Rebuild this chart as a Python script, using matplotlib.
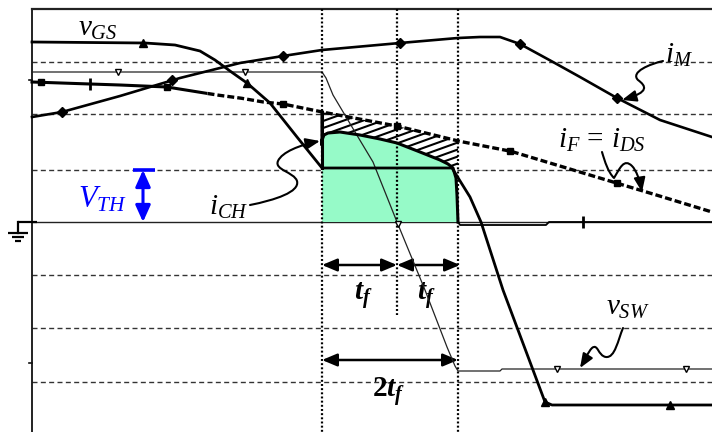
import numpy as np
import matplotlib
matplotlib.use("Agg")
import matplotlib.pyplot as plt
from matplotlib.path import Path
from matplotlib.patches import Polygon, FancyArrowPatch

plt.rcParams.update({
    "mathtext.fontset": "custom",
    "mathtext.rm": "Liberation Serif",
    "mathtext.it": "Liberation Serif:italic",
    "mathtext.bf": "Liberation Serif:bold",
    "mathtext.bfit": "Liberation Serif:italic:bold",
    "font.family": ["Liberation Serif", "DejaVu Serif"],
    "lines.scale_dashes": False,
})

# ---- waveforms: time (arbitrary units) vs level (arbitrary units, 0 = ground) ----
t_vgs = [0, 113, 143, 168, 183, 198, 215, 238, 265, 290, 420, 438, 449, 471, 513, 520, 680]
v_gs = [180, 179, 177, 171, 162, 151, 139, 119, 85, 54, 54, 25, 0, -68, -180, -183, -183]
vgs_marks = [111, 215, 513, 638]

t_im = [0, 30, 88, 148, 208, 251, 290, 368, 426, 448, 468, 488, 521, 548, 585, 628, 680]
i_m = [105, 110, 126, 144, 159, 166, 172, 179, 184, 185, 185, 178, 160, 145, 124, 102, 85]
im_marks = [30, 140, 251, 368, 488, 585]

t_if = [0, 58, 88, 135, 185, 208, 231, 251, 290, 365, 426, 478, 528, 585, 680]
i_f = [140, 138, 137, 135, 127, 124, 120, 118, 110, 96, 81, 71, 56, 39, 10]
if_marks = [9, 135, 251, 365, 478, 585]
if_dash_from = 175

t_vsw = [0, 290, 294, 301, 326, 341, 365, 393, 415, 423, 426, 468, 470, 680]
v_sw = [150, 150, 144, 127, 85, 60, 0, -68, -125, -144, -149, -149, -147, -147]
vsw_marks = [86, 213, 366, 525, 654]

t_ich = [290, 290, 290, 292, 296, 308, 328, 348, 365, 388, 408, 416, 421, 424, 425, 426]
i_ch = [110, 77, 82, 87, 89, 90, 87, 83, 79, 70, 62, 58, 54, 44, 27, 0]
t_ich_tail = [426, 428, 514, 517, 680]
i_ch_tail = [0, -3, -3, 0, 0]
ich_ticks = [(58, 138), (551, 0)]

grid_levels = [160, 108, 52, -53, -106, -160]
t_cursor = [290, 365, 426]
cursor_bottom = [-210, -93, -210]
v_th = 52

fig = plt.figure(figsize=(7.12, 4.32), dpi=100)
ax = fig.add_axes([0, 0, 1, 1])
ax.set_xlim(-32, 680)
ax.set_ylim(-210, 222)
ax.axis("off")

# frame: left axis, top border, ticks, ground level
ax.plot([0, 0], [213, -210], color="#111", lw=1.3, solid_capstyle="butt")
ax.plot([0, 680], [213, 213], color="#222", lw=1.6)
for yt in (142, -141):
    ax.plot([-3, 0], [yt, yt], color="#111", lw=1.2)
ax.plot([0, 680], [0, 0], color="#222", lw=1.0, zorder=2)

# ground symbol
ax.plot([-14, 5], [0, 0], color="k", lw=1.6, solid_capstyle="butt")
ax.plot([-14, -14], [0, -11], color="k", lw=1.6)
for w, yy in ((10, -11), (6, -15), (3, -19)):
    ax.plot([-14 - w, -14 + w], [yy, yy], color="k", lw=1.6, solid_capstyle="butt")

# dashed horizontal grid
for g in grid_levels:
    ax.plot([0, 680], [g, g], color="#333", lw=1.0, dashes=(3.6, 2.4), zorder=1)

# dotted time cursors
for tc, yb in zip(t_cursor, cursor_bottom):
    ax.plot([tc, tc], [213, yb], color="k", lw=1.6, dashes=(1.4, 1.6), zorder=6)

# channel current area (filled) and the hatched band up to i_F
ich_x = np.array(t_ich[2:])
ich_y = np.array(i_ch[2:])
green = Polygon(np.column_stack([np.r_[290, ich_x], np.r_[0, ich_y]]),
                closed=True, facecolor="#96FAC8", edgecolor="none", zorder=2)
ax.add_patch(green)

tt = np.linspace(290, 426, 60)
top = np.interp(tt, t_if, i_f)
hx = np.r_[tt, 426, ich_x[::-1][3:]]
hy = np.r_[top, 54, ich_y[::-1][3:]]
hatch = Polygon(np.column_stack([hx, hy]), closed=True, facecolor="none",
                edgecolor="none", zorder=3)
ax.add_patch(hatch)
xs = np.array([280, 440])
for c in np.arange(-120, 140, 7.0):
    ln, = ax.plot(xs, c + 0.36 * (xs - 280), color="k", lw=1.5, zorder=3)
    ln.set_clip_path(hatch)

# traces
ax.plot(t_vsw, v_sw, color="#222", lw=0.9, zorder=4)
ax.plot(t_vgs, v_gs, color="k", lw=2.0, zorder=5)
ax.plot(t_im, i_m, color="k", lw=1.9, zorder=5)

tf_dense = np.linspace(0, 680, 400)
if_dense = np.interp(tf_dense, t_if, i_f)
solid = tf_dense <= if_dash_from
ax.plot(tf_dense[solid], if_dense[solid], color="k", lw=2.2, zorder=5)
ax.plot(tf_dense[~solid], if_dense[~solid], color="k", lw=2.4, dashes=(5, 2.2), zorder=5)

ax.plot(t_ich, i_ch, color="k", lw=2.2, zorder=5, solid_joinstyle="round")
ax.plot(t_ich_tail, i_ch_tail, color="k", lw=1.3, zorder=5)
ax.plot([290, 290], [110, 54], color="k", lw=2.2, zorder=5)

# trace markers
ax.plot(vgs_marks, np.interp(vgs_marks, t_vgs, v_gs), "^", color="k", ms=6, zorder=7)
ax.plot(im_marks, np.interp(im_marks, t_im, i_m), "D", color="k", ms=5, zorder=7)
ax.plot(if_marks, np.interp(if_marks, t_if, i_f), "s", color="k", ms=5, zorder=7)
ax.plot(vsw_marks, np.interp(vsw_marks, t_vsw, v_sw), "v", mfc="white", mec="k",
        mew=1.0, ms=5, zorder=7)
for tx, ty in ich_ticks:
    ax.plot([tx], [ty], "|", color="k", ms=8, mew=2, zorder=7)

# labels
fs = 21
ax.text(46, 186, r"$v_{GS}$", fontsize=fs, ha="left", va="baseline")
ax.text(633, 159, r"$i_M$", fontsize=fs, ha="left", va="baseline")
ax.text(526, 74, r"$i_F\,=\,i_{DS}$", fontsize=fs, ha="left", va="baseline")
ax.text(177, 7, r"$i_{CH}$", fontsize=fs, ha="left", va="baseline")
ax.text(574, -93, r"$v_{SW}$", fontsize=fs, ha="left", va="baseline")
ax.text(46, 14, r"$V_{TH}$", fontsize=22, ha="left", va="baseline", color="#0000FF")
ax.text(322, -78, r"$\mathbfit{t}_{\mathbfit{f}}$", fontsize=fs, ha="left", va="baseline")
ax.text(385, -78, r"$\mathbfit{t}_{\mathbfit{f}}$", fontsize=fs, ha="left", va="baseline")
ax.text(340, -175, r"$\mathbf{2}\mathbfit{t}_{\mathbfit{f}}$", fontsize=fs, ha="left", va="baseline")

# threshold arrow
ax.plot([101, 123], [v_th, v_th], color="#0000FF", lw=2.6, solid_capstyle="butt")
ax.annotate("", xy=(111, v_th), xytext=(111, 0),
            arrowprops=dict(arrowstyle="<|-|>,head_length=1.0,head_width=0.45",
                            color="#0000FF", lw=2.2, shrinkA=0, shrinkB=0,
                            mutation_scale=10))

# fall-time dimension arrows
dim = dict(arrowstyle="<|-|>,head_length=0.95,head_width=0.4", color="k", lw=1.8,
           shrinkA=0, shrinkB=0, mutation_scale=9.5)
ax.annotate("", xy=(365, -43), xytext=(290, -43), arrowprops=dim)
ax.annotate("", xy=(428, -43), xytext=(365, -43), arrowprops=dim)
ax.annotate("", xy=(426, -138), xytext=(290, -138), arrowprops=dim)


def squiggle(pts):
    codes = [Path.MOVETO] + [Path.CURVE4] * (len(pts) - 1)
    p = FancyArrowPatch(path=Path(pts, codes),
                        arrowstyle="-|>,head_length=1.0,head_width=0.4",
                        mutation_scale=8.5, color="k", lw=1.5, zorder=8)
    ax.add_patch(p)


squiggle([(218, 17), (243, 22), (268, 30), (265, 41), (262, 50), (242, 52), (246, 61),
          (250, 70), (268, 77), (288, 81)])
squiggle([(631, 161), (618, 158), (598, 150), (606, 142), (614, 136), (618, 130), (590, 122)])
squiggle([(570, 70), (573, 60), (576, 50), (582, 44), (588, 54), (592, 64), (600, 56),
          (604, 52), (608, 42), (610, 30)])
squiggle([(591, -106), (586, -118), (583, -136), (574, -135), (566, -134), (566, -121),
          (560, -126), (556, -130), (553, -138), (548, -146)])

fig.savefig("out.png", dpi=100, facecolor="white")
